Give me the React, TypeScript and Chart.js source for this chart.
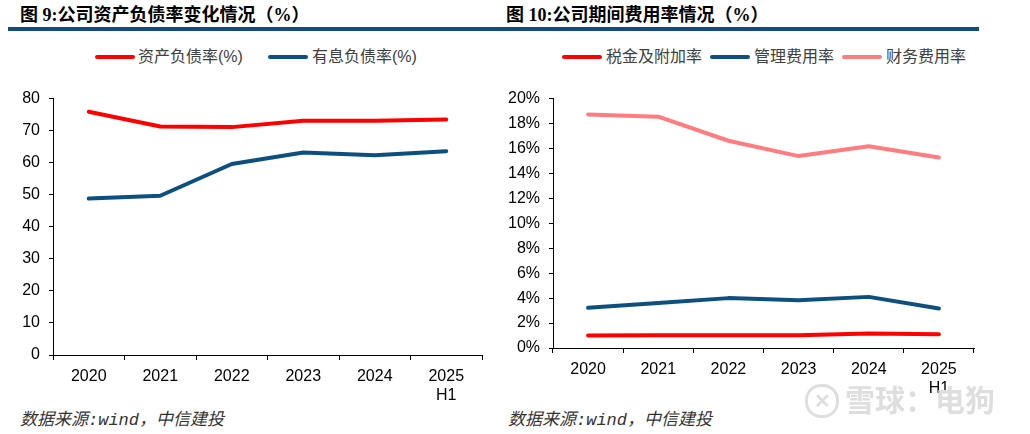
import React, { useEffect, useRef } from "react";
import { Chart, registerables } from "chart.js";

Chart.register(...registerables);

// ---------- data ----------
const categories: (string | string[])[] = ["2020", "2021", "2022", "2023", "2024", ["2025", "H1"]];

const debtRatio = [75.9, 71.3, 71.1, 73.1, 73.1, 73.5];
const interestDebtRatio = [48.8, 49.7, 59.6, 63.2, 62.3, 63.6];

const taxRate = [1.0, 1.03, 1.03, 1.03, 1.16, 1.1];
const adminRate = [3.22, 3.6, 4.0, 3.82, 4.1, 3.16];
const financeRate = [18.73, 18.55, 16.62, 15.39, 16.18, 15.28];

const leftTitle = "图 9:公司资产负债率变化情况（%）";
const rightTitle = "图 10:公司期间费用率情况（%）";
const leftSeriesNames = ["资产负债率(%)", "有息负债率(%)"];
const rightSeriesNames = ["税金及附加率", "管理费用率", "财务费用率"];
const sourceText = "数据来源:wind，中信建投";

const RED = "#FF0000";
const BLUE = "#0D4F7E";
const PINK = "#FF7C80";

const tickFont = { family: '"Liberation Sans", Arial, sans-serif', size: 16 };

function makeChart(
  canvas: HTMLCanvasElement,
  datasets: { label: string; data: number[]; color: string }[],
  yMin: number,
  yMax: number,
  yStep: number,
  yFmt: (v: number) => string,
  pad: { top: number; right: number },
  yWidth: number,
  xHeight: number
) {
  return new Chart(canvas, {
    type: "line",
    data: {
      labels: categories as any,
      datasets: datasets.map((d) => ({
        label: d.label,
        data: d.data,
        borderColor: d.color,
        backgroundColor: d.color,
        borderWidth: 4,
        borderCapStyle: "round",
        borderJoinStyle: "round",
        pointRadius: 0,
        tension: 0,
        fill: false,
      })),
    },
    options: {
      responsive: false,
      animation: false,
      events: [],
      layout: { padding: { left: 0, right: pad.right, top: pad.top, bottom: 0 } },
      plugins: { legend: { display: false }, tooltip: { enabled: false } },
      scales: {
        x: {
          type: "category",
          offset: true,
          grid: {
            display: true,
            offset: true,
            drawOnChartArea: false,
            drawTicks: true,
            tickLength: 5,
            color: "#000",
            lineWidth: 1,
          },
          border: { display: true, color: "#000", width: 1 },
          ticks: { color: "#000", font: tickFont, padding: 7, maxRotation: 0, autoSkip: false },
          afterFit: (s: any) => {
            s.height = xHeight;
          },
        },
        y: {
          min: yMin,
          max: yMax,
          grid: {
            display: true,
            drawOnChartArea: false,
            drawTicks: true,
            tickLength: 4,
            color: "#000",
            lineWidth: 1,
          },
          border: { display: true, color: "#000", width: 1 },
          ticks: {
            stepSize: yStep,
            color: "#000",
            font: tickFont,
            padding: 9,
            callback: (v: any) => yFmt(Number(v)),
          },
          afterFit: (s: any) => {
            s.width = yWidth;
          },
        },
      },
    } as any,
  });
}

const abs = (s: React.CSSProperties): React.CSSProperties => ({ position: "absolute", ...s });

function LegendItem({ x, textX, color, text }: { x: number; textX: number; color: string; text: string }) {
  return (
    <>
      <div style={abs({ left: x, top: 55, width: 40, height: 4, borderRadius: 2, background: color })} />
      <div
        style={abs({
          left: textX,
          top: 46,
          fontFamily: '"Liberation Sans", "Noto Sans CJK SC", sans-serif',
          fontSize: 16,
          lineHeight: "22px",
          color: "#404040",
          whiteSpace: "nowrap",
        })}
      >
        {text}
      </div>
    </>
  );
}

export default function App() {
  const leftRef = useRef<HTMLCanvasElement>(null);
  const rightRef = useRef<HTMLCanvasElement>(null);

  useEffect(() => {
    const c1 = makeChart(
      leftRef.current!,
      [
        { label: leftSeriesNames[0], data: debtRatio, color: RED },
        { label: leftSeriesNames[1], data: interestDebtRatio, color: BLUE },
      ],
      0,
      80,
      10,
      (v) => String(v),
      { top: 14, right: 18 },
      53,
      45
    );
    const c2 = makeChart(
      rightRef.current!,
      [
        { label: rightSeriesNames[0], data: taxRate, color: RED },
        { label: rightSeriesNames[1], data: adminRate, color: BLUE },
        { label: rightSeriesNames[2], data: financeRate, color: PINK },
      ],
      0,
      20,
      2,
      (v) => v + "%",
      { top: 14, right: 26 },
      53,
      52
    );
    return () => {
      c1.destroy();
      c2.destroy();
    };
  }, []);

  const titleStyle: React.CSSProperties = {
    fontFamily: '"Liberation Serif", "Noto Sans CJK SC", serif',
    fontWeight: "bold",
    fontSize: 18,
    letterSpacing: 0,
    lineHeight: "24px",
    color: "#000",
    whiteSpace: "nowrap",
  };
  const srcStyle: React.CSSProperties = {
    fontFamily: '"Liberation Mono", "Noto Sans CJK SC", monospace',
    fontStyle: "italic",
    fontSize: 17,
    lineHeight: "22px",
    color: "#333",
    whiteSpace: "nowrap",
  };

  return (
    <div style={abs({ left: 0, top: 0, width: 1030, height: 434, background: "#fff", overflow: "hidden" })}>
      <div style={abs({ left: 20, top: 3, ...titleStyle })}>{leftTitle}</div>
      <div style={abs({ left: 506, top: 3, ...titleStyle })}>{rightTitle}</div>
      <div style={abs({ left: 8, top: 27, width: 971, height: 4, background: "#134B7C" })} />

      <LegendItem x={95} textX={138} color={RED} text={leftSeriesNames[0]} />
      <LegendItem x={268} textX={312} color={BLUE} text={leftSeriesNames[1]} />

      <LegendItem x={562} textX={606} color={RED} text={rightSeriesNames[0]} />
      <LegendItem x={710} textX={754} color={BLUE} text={rightSeriesNames[1]} />
      <LegendItem x={842} textX={886} color={PINK} text={rightSeriesNames[2]} />

      <canvas ref={leftRef} width={500} height={320} style={abs({ left: 0, top: 80, width: 500, height: 320 })} />
      <canvas ref={rightRef} width={500} height={320} style={abs({ left: 500, top: 80, width: 500, height: 320 })} />

      <div style={abs({ left: 20, top: 410, ...srcStyle })}>{sourceText}</div>
      <div style={abs({ left: 508, top: 410, ...srcStyle })}>{sourceText}</div>

      {/* watermark */}
      <div
        style={abs({
          left: 805,
          top: 384,
          width: 28,
          height: 28,
          borderRadius: 16,
          border: "3px solid #dedede",
          color: "#dedede",
          fontFamily: '"Liberation Sans", sans-serif',
          fontWeight: "bold",
          fontSize: 20,
          lineHeight: "28px",
          textAlign: "center",
        })}
      >
        ✕
      </div>
      <div
        style={abs({
          left: 845,
          top: 380,
          fontFamily: '"Noto Sans CJK SC", sans-serif',
          fontWeight: "bold",
          fontSize: 30,
          lineHeight: "36px",
          color: "#dedede",
          whiteSpace: "nowrap",
        })}
      >
        雪球：电狗
      </div>
    </div>
  );
}
